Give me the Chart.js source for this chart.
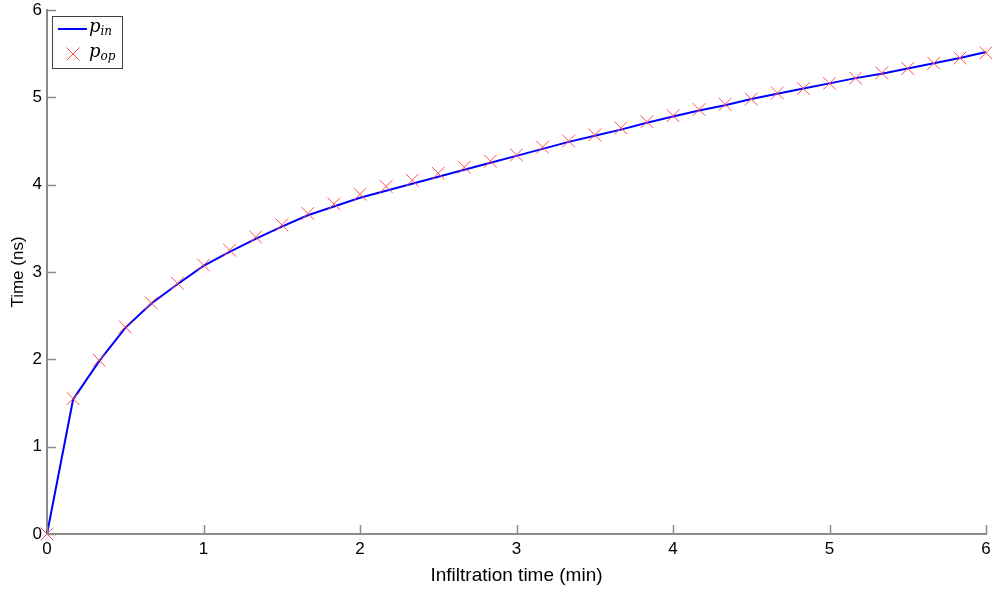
<!DOCTYPE html>
<html><head><meta charset="utf-8">
<script src="https://cdn.jsdelivr.net/npm/chart.js@4.4.0/dist/chart.umd.min.js"></script>
<style>html,body{margin:0;padding:0;background:#fff}#wrap{width:992px;height:590px}</style>
</head><body><div id="wrap"><canvas id="c" width="992" height="590"></canvas></div>
<script>
const xMinutes = [0, 0.1667, 0.3333, 0.5, 0.6667, 0.8333, 1, 1.1667, 1.3333, 1.5, 1.6667, 1.8333,
  2, 2.1667, 2.3333, 2.5, 2.6667, 2.8333, 3, 3.1667, 3.3333, 3.5, 3.6667, 3.8333,
  4, 4.1667, 4.3333, 4.5, 4.6667, 4.8333, 5, 5.1667, 5.3333, 5.5, 5.6667, 5.8333, 6];
const pIn = [0, 1.54, 1.98, 2.36, 2.64, 2.86, 3.07, 3.23, 3.38, 3.52, 3.65, 3.75,
  3.85, 3.93, 4.01, 4.09, 4.17, 4.25, 4.33, 4.41, 4.49, 4.56, 4.63, 4.71,
  4.78, 4.85, 4.91, 4.98, 5.04, 5.10, 5.16, 5.22, 5.27, 5.33, 5.39, 5.45, 5.52];
const pOp = [0, 1.55, 1.99, 2.37, 2.645, 2.87, 3.08, 3.25, 3.40, 3.54, 3.67, 3.78,
  3.89, 3.98, 4.05, 4.13, 4.20, 4.27, 4.34, 4.43, 4.50, 4.57, 4.65, 4.72,
  4.79, 4.86, 4.92, 4.98, 5.05, 5.10, 5.16, 5.22, 5.28, 5.33, 5.39, 5.45, 5.51];
const xTicks = [0, 1, 2, 3, 4, 5, 6];
const yTicks = [0, 1, 2, 3, 4, 5, 6];
const xTitle = 'Infiltration time (min)';
const yTitle = 'Time (ns)';
const legendItems = [
  { base: 'p', sub: 'in', kind: 'line' },
  { base: 'p', sub: 'op', kind: 'cross' }
];

const AXIS_COLOR = '#8a8a8a';
const LINE_COLOR = '#0000ff';
const MARK_COLOR = '#ff5050';
const FONT = "'Liberation Sans', Arial, sans-serif";

const inwardTicks = {
  id: 'inwardTicks',
  afterDatasetsDraw(chart) {
    const ctx = chart.ctx;
    const xs = chart.scales.x, ys = chart.scales.y;
    const L = 9;
    ctx.save();
    ctx.strokeStyle = AXIS_COLOR;
    ctx.lineWidth = 1.5;
    ctx.beginPath();
    xTicks.forEach(v => {
      const px = Math.round(xs.getPixelForValue(v)) + 0.5;
      ctx.moveTo(px, ys.bottom);
      ctx.lineTo(px, ys.bottom - L);
    });
    yTicks.forEach(v => {
      const py = Math.round(ys.getPixelForValue(v)) + 0.5;
      ctx.moveTo(xs.left, py);
      ctx.lineTo(xs.left + L, py);
    });
    ctx.stroke();
    ctx.restore();
  }
};

const mathLegend = {
  id: 'mathLegend',
  afterDraw(chart) {
    const ctx = chart.ctx;
    const a = chart.chartArea;
    const bx = a.left + 5, by = a.top + 6, bw = 70, bh = 52;
    ctx.save();
    ctx.fillStyle = '#fff';
    ctx.fillRect(bx, by, bw, bh);
    ctx.strokeStyle = '#404040';
    ctx.lineWidth = 1;
    ctx.strokeRect(bx + 0.5, by + 0.5, bw, bh);
    legendItems.forEach((it, i) => {
      const cy = by + 13 + i * 25;
      if (it.kind === 'line') {
        ctx.strokeStyle = LINE_COLOR;
        ctx.lineWidth = 2;
        ctx.beginPath();
        ctx.moveTo(bx + 6, cy);
        ctx.lineTo(bx + 35, cy);
        ctx.stroke();
      } else {
        ctx.strokeStyle = MARK_COLOR;
        ctx.lineWidth = 1;
        ctx.beginPath();
        const cx = bx + 21, r = 6.5;
        ctx.moveTo(cx - r, cy - r); ctx.lineTo(cx + r, cy + r);
        ctx.moveTo(cx - r, cy + r); ctx.lineTo(cx + r, cy - r);
        ctx.stroke();
      }
      ctx.fillStyle = '#000';
      ctx.textBaseline = 'alphabetic';
      ctx.textAlign = 'left';
      ctx.font = "italic 18px 'DejaVu Serif', 'Liberation Serif', serif";
      const tx = bx + 37;
      ctx.fillText(it.base, tx, cy + 3);
      const w = ctx.measureText(it.base).width;
      ctx.font = "italic 12px 'DejaVu Serif', 'Liberation Serif', serif";
      ctx.fillText(it.sub, tx + w, cy + 6);
    });
    ctx.restore();
  }
};

new Chart(document.getElementById('c'), {
  type: 'line',
  data: {
    datasets: [
      {
        label: 'p_in',
        data: xMinutes.map((x, i) => ({ x: x, y: pIn[i] })),
        borderColor: LINE_COLOR,
        borderWidth: 2,
        pointRadius: 0,
        pointHoverRadius: 0,
        tension: 0,
        fill: false,
        clip: false,
        order: 2
      },
      {
        label: 'p_op',
        data: xMinutes.map((x, i) => ({ x: x, y: pOp[i] })),
        showLine: false,
        pointStyle: 'crossRot',
        pointRadius: 9,
        pointBorderColor: MARK_COLOR,
        pointBorderWidth: 1,
        borderColor: MARK_COLOR,
        backgroundColor: MARK_COLOR,
        clip: false,
        order: 1
      }
    ]
  },
  options: {
    responsive: false,
    devicePixelRatio: 1,
    animation: false,
    events: [],
    layout: { autoPadding: false, padding: { left: 0, right: 6, top: 10, bottom: 0 } },
    plugins: { legend: { display: false }, tooltip: { enabled: false }, title: { display: false } },
    scales: {
      x: {
        type: 'linear',
        min: 0, max: 6,
        afterBuildTicks: s => { s.ticks = xTicks.map(v => ({ value: v })); },
        afterFit: s => { s.height = 56; s.paddingLeft = 0; s.paddingRight = 0; },
        grid: { display: true, drawOnChartArea: false, drawTicks: false, color: 'rgba(0,0,0,0)' },
        border: { display: true, color: AXIS_COLOR, width: 2 },
        ticks: { color: '#000', font: { family: FONT, size: 17 }, padding: 5, maxRotation: 0, autoSkip: false },
        title: { display: true, text: xTitle, color: '#000', font: { family: FONT, size: 19 }, padding: { top: 0, bottom: 3 } }
      },
      y: {
        type: 'linear',
        min: 0, max: 6,
        afterBuildTicks: s => { s.ticks = yTicks.map(v => ({ value: v })); },
        afterFit: s => { s.width = 47; s.paddingTop = 0; s.paddingBottom = 0; },
        grid: { display: true, drawOnChartArea: false, drawTicks: false, color: 'rgba(0,0,0,0)' },
        border: { display: true, color: AXIS_COLOR, width: 2 },
        ticks: { color: '#000', font: { family: FONT, size: 17 }, padding: 5, autoSkip: false },
        title: { display: true, text: yTitle, color: '#000', font: { family: FONT, size: 17 }, padding: { top: 8, bottom: 0 } }
      }
    }
  },
  plugins: [inwardTicks, mathLegend]
});
</script>
</body></html>
